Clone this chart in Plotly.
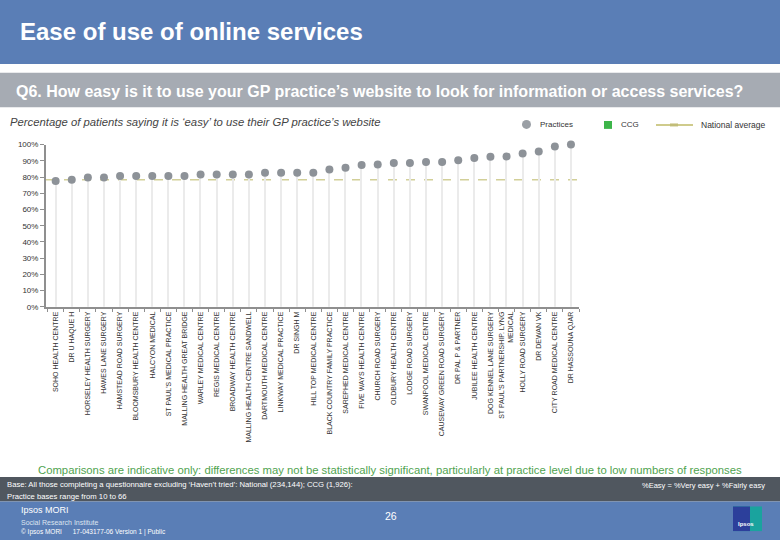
import plotly.graph_objects as go

# ---------------- data ----------------
practices = [
    "SOHO HEALTH CENTRE", "DR U HAQUE H", "HORSELEY HEALTH SURGERY", "HAWES LANE SURGERY",
    "HAMSTEAD ROAD SURGERY", "BLOOMSBURY HEALTH CENTRE", "HALCYON MEDICAL",
    "ST PAUL'S MEDICAL PRACTICE", "MALLING HEALTH GREAT BRIDGE", "WARLEY MEDICAL CENTRE",
    "REGIS MEDICAL CENTRE", "BROADWAY HEALTH CENTRE", "MALLING HEALTH CENTRE SANDWELL",
    "DARTMOUTH MEDICAL CENTRE", "LINKWAY MEDICAL PRACTICE", "DR SINGH M",
    "HILL TOP MEDICAL CENTRE", "BLACK COUNTRY FAMILY PRACTICE", "SAREPHED MEDICAL CENTRE",
    "FIVE WAYS HEALTH CENTRE", "CHURCH ROAD SURGERY", "OLDBURY HEALTH CENTRE",
    "LODGE ROAD SURGERY", "SWANPOOL MEDICAL CENTRE", "CAUSEWAY GREEN ROAD SURGERY",
    "DR PAL P & PARTNER", "JUBILEE HEALTH CENTRE", "DOG KENNEL LANE SURGERY",
    "ST PAUL'S PARTNERSHIP. LYNG<br>MEDICAL", "HOLLY ROAD SURGERY", "DR DEWAN VK",
    "CITY ROAD MEDICAL CENTRE", "DR HASSOUNA QJAR",
]
easy_pct = [
    77.6, 78.4, 79.8, 79.8, 80.6, 80.6, 80.6, 80.6, 80.6, 81.6, 81.6, 81.6, 81.6,
    82.6, 82.6, 82.6, 82.6, 84.6, 85.7, 87.5, 87.7, 88.7, 88.7, 89.3, 89.3, 90.3,
    91.7, 92.5, 92.7, 94.5, 95.8, 98.8, 100.0,
]
national_avg = 78.3
y_ticks = [0, 10, 20, 30, 40, 50, 60, 70, 80, 90, 100]
y_tick_labels = [f"{v}%" for v in y_ticks]

# ---------------- helpers ----------------
W, H = 780, 540
def px(x):
    return x / W
def py(y):
    return 1 - y / H

BLUE = "#5A7EB6"
FONT = "Liberation Sans, Arial, sans-serif"

fig = go.Figure()

# drop lines
fig.add_trace(go.Bar(
    x=practices, y=easy_pct, width=0.08, marker=dict(color="#ebebeb", line=dict(width=0)),
    hoverinfo="skip", showlegend=False,
))
# practice points
fig.add_trace(go.Scatter(
    x=practices, y=easy_pct, mode="markers",
    marker=dict(size=8, color="#8d9298"), cliponaxis=False, showlegend=False,
    hovertemplate="%{x}: %{y:.0f}%<extra></extra>",
))

shapes = []
# national average dashed line
shapes.append(dict(type="line", xref="x domain", yref="y", x0=0, x1=1,
                   y0=national_avg, y1=national_avg,
                   line=dict(color="#d2cf98", width=1.5, dash="dash"), layer="below"))
# bands
shapes.append(dict(type="rect", xref="paper", yref="paper", x0=0, x1=1, y0=py(61), y1=1.01,
                   fillcolor=BLUE, line=dict(width=0), layer="below"))
shapes.append(dict(type="rect", xref="paper", yref="paper", x0=0, x1=1, y0=py(105), y1=py(70),
                   fillcolor="#A6ABB3", line=dict(width=0), layer="below"))
shapes.append(dict(type="rect", xref="paper", yref="paper", x0=0, x1=1, y0=py(506), y1=py(481),
                   fillcolor="#50575F", line=dict(width=0), layer="below"))
shapes.append(dict(type="rect", xref="paper", yref="paper", x0=0, x1=1, y0=-0.01, y1=py(506),
                   fillcolor=BLUE, line=dict(width=0), layer="below"))
# legend symbols
shapes.append(dict(type="circle", xref="paper", yref="paper", x0=px(522), x1=px(531),
                   y0=py(127), y1=py(118), fillcolor="#9a9fa5", line=dict(width=0)))
shapes.append(dict(type="rect", xref="paper", yref="paper", x0=px(604), x1=px(612),
                   y0=py(127), y1=py(119), fillcolor="#3DB54A", line=dict(width=0)))
shapes.append(dict(type="line", xref="paper", yref="paper", x0=px(656), x1=px(693),
                   y0=py(123), y1=py(123), line=dict(color="#cfcb8c", width=2)))
shapes.append(dict(type="rect", xref="paper", yref="paper", x0=px(670), x1=px(678),
                   y0=py(124.5), y1=py(121.5), fillcolor="#c2bd78", line=dict(width=0)))
# logo
shapes.append(dict(type="rect", xref="paper", yref="paper", x0=px(733), x1=px(762),
                   y0=py(536), y1=py(511), fillcolor="#1AA39E", line=dict(width=0)))
shapes.append(dict(type="rect", xref="paper", yref="paper", x0=px(733), x1=px(750),
                   y0=py(536), y1=py(511), fillcolor="#2C3F9B", line=dict(width=0)))

ann = []
def text(x, y, s, size, color, xanchor="left", bold=False, italic=False, family=FONT):
    if bold:
        s = f"<b>{s}</b>"
    if italic:
        s = f"<i>{s}</i>"
    ann.append(dict(x=px(x), y=py(y), xref="paper", yref="paper", text=s, showarrow=False,
                    xanchor=xanchor, yanchor="middle", align="left",
                    font=dict(size=size, color=color, family=family)))

text(18, 28, "Ease of use of online services", 24, "white", bold=True)
text(14, 89, "Q6. How easy is it to use your GP practice\u2019s website to look for information or access services?",
     16, "white", bold=True)
text(8, 120, "Percentage of patients saying it is \u2018easy\u2019 to use their GP practice\u2019s website",
     11.3, "#444444", italic=True)
text(538, 123, "Practices", 8, "#333333")
text(619, 123, "CCG", 8, "#333333")
text(699, 123, "National average", 8.5, "#333333")
text(390, 474, "Comparisons are indicative only: differences may not be statistically significant, particularly at practice level due to low numbers of responses",
     11.3, "#4FA34F", xanchor="center")
text(5, 489, "Base: All those completing a questionnaire excluding \u2018Haven\u2019t tried\u2019: National (234,144); CCG (1,926):",
     7.7, "white")
text(5, 501, "Practice bases range from 10 to 66", 7.7, "white")
text(767, 490, "%Easy = %Very easy + %Fairly easy", 7.5, "white", xanchor="right")
text(19, 515, "Ipsos MORI", 9, "white")
text(19, 527, "Social Research Institute", 7, "#dce4f0")
text(19, 537, "\u00a9 Ipsos MORI      17-043177-06 Version 1 | Public", 6.5, "white")
text(391, 521, "26", 10.5, "white", xanchor="center")
text(746, 529, "Ipsos", 6, "white", xanchor="center", bold=True)

fig.update_layout(
    width=W, height=H, margin=dict(l=0, r=0, t=0, b=0),
    paper_bgcolor="white", plot_bgcolor="rgba(0,0,0,0)",
    showlegend=False, bargap=0, shapes=shapes, annotations=ann,
    font=dict(family=FONT, color="#333333"),
    xaxis=dict(
        domain=[px(46), px(579)], range=[-0.6, 32.5], type="category",
        tickangle=-90, tickfont=dict(size=7, color="#333333"),
        showline=True, linecolor="#8f8f8f", linewidth=2,
        ticks="outside", ticklen=3, tickcolor="#8f8f8f", tickson="boundaries",
        showgrid=False, fixedrange=True,
    ),
    yaxis=dict(
        domain=[py(308), py(143)], range=[0, 100],
        tickvals=y_ticks, ticktext=y_tick_labels, tickfont=dict(size=8, color="#333333"),
        showline=True, linecolor="#8f8f8f", linewidth=2,
        ticks="outside", ticklen=4, tickcolor="#8f8f8f",
        showgrid=False, zeroline=False, fixedrange=True,
    ),
)

fig.write_html(
    "out.html",
    config={"displayModeBar": False},
    post_script="document.body.style.margin='0';document.body.style.padding='0';"
                "document.documentElement.style.overflow='hidden';",
)
